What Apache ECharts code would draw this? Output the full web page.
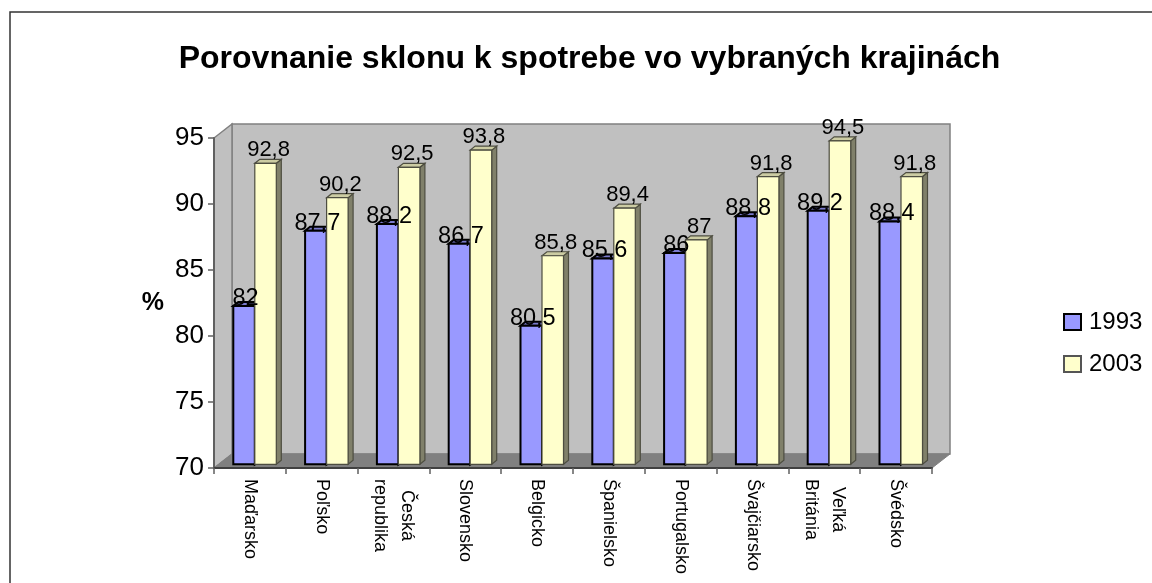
<!DOCTYPE html>
<html>
<head>
<meta charset="utf-8">
<style>html,body{margin:0;padding:0;background:#fff}#c{width:1152px;height:583px}</style>
<script src="https://cdn.jsdelivr.net/npm/echarts@6/dist/echarts.min.js"></script>
</head>
<body>
<div id="c"></div>
<script>
const chartTitle = 'Porovnanie sklonu k spotrebe vo vybraných krajinách';
const categories = ['Maďarsko','Poľsko','Česká\nrepublika','Slovensko','Belgicko','Španielsko','Portugalsko','Švajčiarsko','Veľká\nBritánia','Švédsko'];
const values1993 = [82,87.7,88.2,86.7,80.5,85.6,86,88.8,89.2,88.4];
const values2003 = [92.8,90.2,92.5,93.8,85.8,89.4,87,91.8,94.5,91.8];

const FONT = '"Liberation Sans", Arial, sans-serif';
const WALL = {dx:18, dy:-14};
const BAR = {w:21.5, dx:4.9, dy:-3.7, sx:5, sy:-4};

function wallsItem(params){
  const c = params.coordSys;
  const x0=c.x, x1=c.x+c.width, yT=c.y, yB=c.y+c.height, dx=WALL.dx, dy=WALL.dy;
  const line={stroke:'#808080',lineWidth:1.5};
  return {type:'group',silent:true,children:[
    {type:'polygon',shape:{points:[[x0+dx,yT+dy],[x1+dx,yT+dy],[x1+dx,yB+dy],[x0+dx,yB+dy]]},style:Object.assign({fill:'#c0c0c0'},line)},
    {type:'polygon',shape:{points:[[x0,yT],[x0+dx,yT+dy],[x0+dx,yB+dy],[x0,yB]]},style:Object.assign({fill:'#c0c0c0'},line)},
    {type:'polygon',shape:{points:[[x0,yB],[x0+dx,yB+dy],[x1+dx,yB+dy],[x1,yB]]},style:{fill:'#808080',stroke:'#808080',lineWidth:1}}
  ]};
}

function barRenderer(slot, opt){
  return function(params, api){
    const i=api.value(0), v=api.value(1);
    const top=api.coord([i,v]), base=api.coord([i,70]);
    const xL=top[0]+BAR.dx+(slot===0?-BAR.w:0), xR=xL+BAR.w;
    const yT=top[1]+BAR.dy, yB=base[1]+BAR.dy;
    const sx=BAR.sx, sy=BAR.sy;
    const edge={stroke:opt.stroke,lineWidth:opt.lw,lineJoin:'miter'};
    return {type:'group',children:[
      {type:'polygon',shape:{points:[[xR,yT],[xR+sx,yT+sy],[xR+sx,yB+sy],[xR,yB]]},style:Object.assign({fill:opt.side},edge)},
      {type:'polygon',shape:{points:[[xL,yT],[xL+sx,yT+sy],[xR+sx,yT+sy],[xR,yT]]},style:Object.assign({fill:opt.cap},edge)},
      {type:'rect',shape:{x:xL,y:yT,width:BAR.w,height:yB-yT},style:Object.assign({fill:opt.fill},edge)},
      {type:'text',z2:100,silent:true,style:{
        text:String(v).replace('.',','),
        x:(xL+xR)/2+opt.labelDx,y:yT-opt.labelGap,
        align:'center',verticalAlign:'bottom',
        font:opt.labelSize+'px '+FONT,fill:'#000'}}
    ]};
  };
}

const opt1993={fill:'#9999ff',side:'#7a7acc',cap:'#7a7acc',stroke:'#000',lw:2,labelDx:1.5,labelGap:-4.5,labelSize:23.5};
const opt2003={fill:'#ffffcc',side:'#80806a',cap:'#cccca3',stroke:'#4d4d40',lw:1.2,labelDx:3,labelGap:2,labelSize:22};

const chart=echarts.init(document.getElementById('c'),null,{renderer:'canvas'});
chart.setOption({
  animation:false,
  backgroundColor:'#fff',
  title:{text:chartTitle,left:584.5,top:38,textAlign:'center',textStyle:{fontFamily:FONT,fontWeight:'bold',fontSize:32,color:'#000'}},
  legend:{
    data:['1993','2003'],left:1058,top:305,orient:'vertical',itemWidth:17,itemHeight:16,itemGap:18,selectedMode:false,icon:'rect',
    textStyle:{fontFamily:FONT,fontSize:24,color:'#000',padding:[0,0,0,3]}
  },
  grid:{left:214,top:138,width:718,height:330,containLabel:false},
  xAxis:{
    type:'category',data:categories,z:5,
    axisLine:{lineStyle:{color:'#404040',width:2}},
    axisTick:{show:true,length:6,alignWithLabel:false,lineStyle:{color:'#606060',width:1.5}},
    axisLabel:{
      interval:0,rotate:-90,margin:11,hideOverlap:false,
      formatter:function(s){return s.split('\n').map(function(l){return '{c|'+l+'}';}).join('\n');},
      rich:{c:{fontFamily:FONT,fontSize:18,color:'#000',lineHeight:27,align:'center'}}
    }
  },
  yAxis:{
    type:'value',min:70,max:95,interval:5,z:5,
    name:'%',nameLocation:'middle',nameRotate:0,nameGap:50,
    nameTextStyle:{fontFamily:FONT,fontWeight:'bold',fontSize:25,color:'#000'},
    splitLine:{show:false},
    axisLine:{show:true,lineStyle:{color:'#606060',width:2}},
    axisTick:{show:true,length:6,lineStyle:{color:'#606060',width:1.5}},
    axisLabel:{margin:10,fontFamily:FONT,fontSize:26,color:'#000'}
  },
  series:[
    {name:'walls',type:'custom',silent:true,data:[[0,70]],renderItem:wallsItem,encode:{x:0,y:1}},
    {name:'1993',type:'custom',data:values1993.map(function(v,i){return [i,v];}),renderItem:barRenderer(0,opt1993),encode:{x:0,y:1},
      itemStyle:{color:opt1993.fill,borderColor:'#000',borderWidth:2}},
    {name:'2003',type:'custom',data:values2003.map(function(v,i){return [i,v];}),renderItem:barRenderer(1,opt2003),encode:{x:0,y:1},
      itemStyle:{color:opt2003.fill,borderColor:'#555',borderWidth:1}}
  ],
  graphic:[{type:'rect',silent:true,shape:{x:10,y:12,width:1300,height:800},style:{fill:'none',stroke:'#333',lineWidth:1.5}}]
});
</script>
</body>
</html>
